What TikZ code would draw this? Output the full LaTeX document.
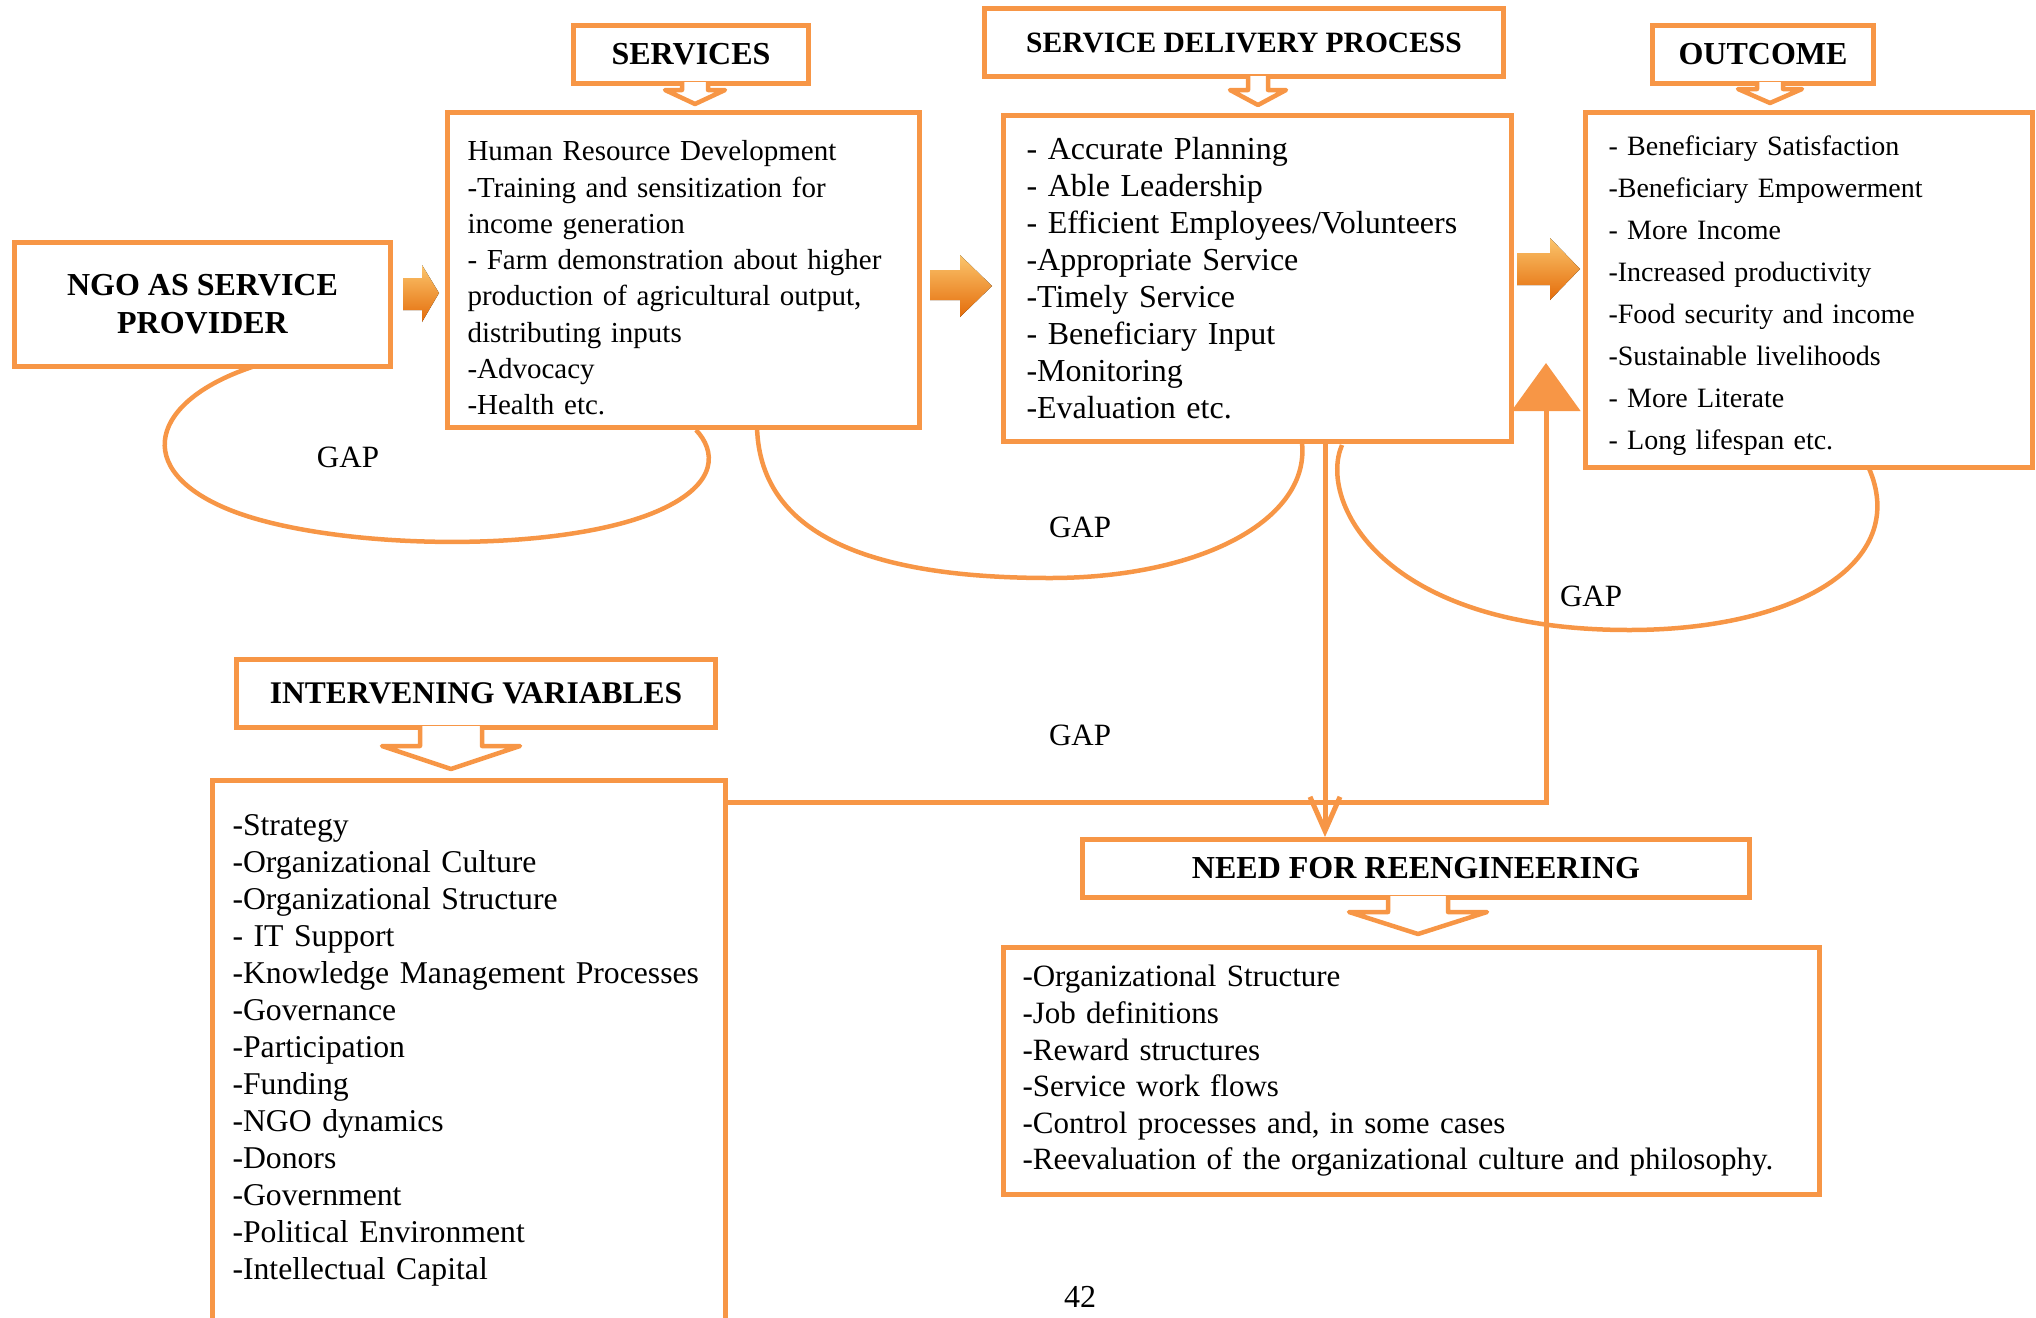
\documentclass[tikz,border=0pt]{standalone}
\usepackage{fontspec}
\setmainfont{Liberation Serif}
\usetikzlibrary{arrows.meta}
\definecolor{boxorange}{HTML}{F79646}
\definecolor{arrowdark}{HTML}{E46C0A}
\definecolor{arrowlight}{HTML}{FBC56D}

\begin{document}
\begin{tikzpicture}[x=1pt,y=-1pt,line join=miter,
  hdr/.style={draw=boxorange,line width=5pt,fill=white,anchor=north west,inner sep=0pt,align=center,font=\bfseries\fontsize{32}{38}\selectfont},
  listbox/.style={draw=boxorange,line width=5pt,fill=white,anchor=north west,inner ysep=0pt,align=left},
  hollow/.style={draw=boxorange,line width=4.5pt,fill=white,line join=round},
  blockarrow/.style={top color=arrowlight,bottom color=arrowdark},
  gapline/.style={draw=boxorange,line width=4.5pt},
  feedline/.style={draw=boxorange,line width=5pt},
  gaplabel/.style={font=\fontsize{31}{36}\selectfont}]
\useasboundingbox (0,0) rectangle (2036,1317);
% gap curves behind the boxes
\draw[gapline] (255,366) .. controls (150,400) and (130,470) .. (230,510) .. controls (330,550) and (560,555) .. (660,510) .. controls (720,483) and (715,450) .. (696,430);
\draw[gapline] (757,427) .. controls (760,540) and (880,578) .. (1050,578) .. controls (1200,578) and (1310,520) .. (1302,443);
\draw[gapline] (1342,445) .. controls (1318,500) and (1380,630) .. (1629,630) .. controls (1800,630) and (1915,560) .. (1866,462);
% headers
\node[hdr,minimum width=376pt,minimum height=124pt] (ngo) at (12,240) {NGO AS SERVICE\\PROVIDER};
\node[hdr,minimum width=235pt,minimum height=58pt] (srvhdr) at (571,23) {SERVICES};
\node[hdr,minimum width=519pt,minimum height=68pt,font=\bfseries\fontsize{29.5}{34}\selectfont] (sdphdr) at (982,6) {SERVICE DELIVERY PROCESS};
\node[hdr,minimum width=221pt,minimum height=58pt] (outhdr) at (1650,23) {OUTCOME};
\node[hdr,minimum width=479pt,minimum height=68pt,font=\bfseries\fontsize{31.5}{38}\selectfont] (ivhdr) at (234,657) {INTERVENING VARIABLES};
\node[hdr,minimum width=667pt,minimum height=58pt] (nfr) at (1080,837) {NEED FOR REENGINEERING};
% lists
\node[listbox,minimum height=315pt,text width=432pt,inner xsep=20pt,font=\fontsize{29}{36.3}\selectfont] (srv) at (445,110)
  {\rule{0pt}{36pt}Human Resource Development\\-Training and sensitization for\\income generation\\- Farm demonstration about higher\\production of agricultural output,\\distributing inputs\\-Advocacy\\-Health etc.};
\node[listbox,minimum height=326pt,text width=462pt,inner xsep=23pt,font=\fontsize{32}{37}\selectfont] (sdp) at (1001,113)
  {- Accurate Planning\\- Able Leadership\\- Efficient Employees/Volunteers\\-Appropriate Service\\-Timely Service\\- Beneficiary Input\\-Monitoring\\-Evaluation etc.};
\node[listbox,minimum height=355pt,text width=401pt,inner xsep=23pt,font=\fontsize{28}{42}\selectfont] (out) at (1583,110)
  {\rule{0pt}{32pt}- Beneficiary Satisfaction\\-Beneficiary Empowerment\\- More Income\\-Increased productivity\\-Food security and income\\-Sustainable livelihoods\\- More Literate\\- Long lifespan etc.};
\node[listbox,minimum height=540pt,text width=473pt,inner xsep=20pt,font=\fontsize{31.7}{37}\selectfont] (iv) at (210,778)
  {-Strategy\\-Organizational Culture\\-Organizational Structure\\- IT Support\\-Knowledge Management Processes\\-Governance\\-Participation\\-Funding\\-NGO dynamics\\-Donors\\-Government\\-Political Environment\\-Intellectual Capital};
\node[listbox,minimum height=247pt,text width=778pt,inner xsep=19pt,font=\fontsize{31}{36.6}\selectfont] (reeng) at (1001,945)
  {-Organizational Structure\\-Job definitions\\-Reward structures\\-Service work flows\\-Control processes and, in some cases\\-Reevaluation of the organizational culture and philosophy.};
% hollow arrows under the headers
\draw[hollow] (682,82) -- (682,90) -- (665,90) -- (695,104) -- (725,90) -- (708,90) -- (708,82);
\draw[hollow] (1248,76) -- (1248,90) -- (1230,90) -- (1258,105) -- (1286,90) -- (1268,90) -- (1268,76);
\draw[hollow] (1757,82) -- (1757,89) -- (1738,89) -- (1770,103) -- (1802,89) -- (1783,89) -- (1783,82);
\draw[hollow] (420,726) -- (420,746) -- (382,746) -- (451,769) -- (520,746) -- (482,746) -- (482,726);
\draw[hollow] (1388,896) -- (1388,912) -- (1349,912) -- (1418,934) -- (1487,912) -- (1448,912) -- (1448,896);
% block arrows between the boxes
\fill[blockarrow] (403,278) -- (422,278) -- (422,265) -- (439,293) -- (422,322) -- (422,310) -- (403,310) -- cycle;
\fill[blockarrow] (930,270) -- (960,270) -- (960,255) -- (992,286) -- (960,317) -- (960,300) -- (930,300) -- cycle;
\fill[blockarrow] (1517,253) -- (1550,253) -- (1550,238) -- (1580,269) -- (1550,300) -- (1550,285) -- (1517,285) -- cycle;
% reengineering links
\coordinate (downx) at (1325,0);
\coordinate (upx) at (1546,0);
\coordinate (feedy) at (0,802);
\coordinate (uptip) at (1546,363);
\draw[feedline,-{Straight Barb[length=34pt,width=30pt]}] (downx |- sdp.south) -- (downx |- nfr.north);
\draw[feedline,-{Triangle[length=48pt,width=68pt]}] (iv.east |- feedy) -- (upx |- feedy) -- (uptip);
% labels
\node[gaplabel] (gap1) at (348,457) {GAP};
\node[gaplabel] (gap2) at (1080,527) {GAP};
\node[gaplabel] (gap3) at (1591,596) {GAP};
\node[gaplabel] (gap4) at (1080,735) {GAP};
\node[font=\fontsize{32}{37}\selectfont] (pageno) at (1080,1297) {42};
\end{tikzpicture}
\end{document}
